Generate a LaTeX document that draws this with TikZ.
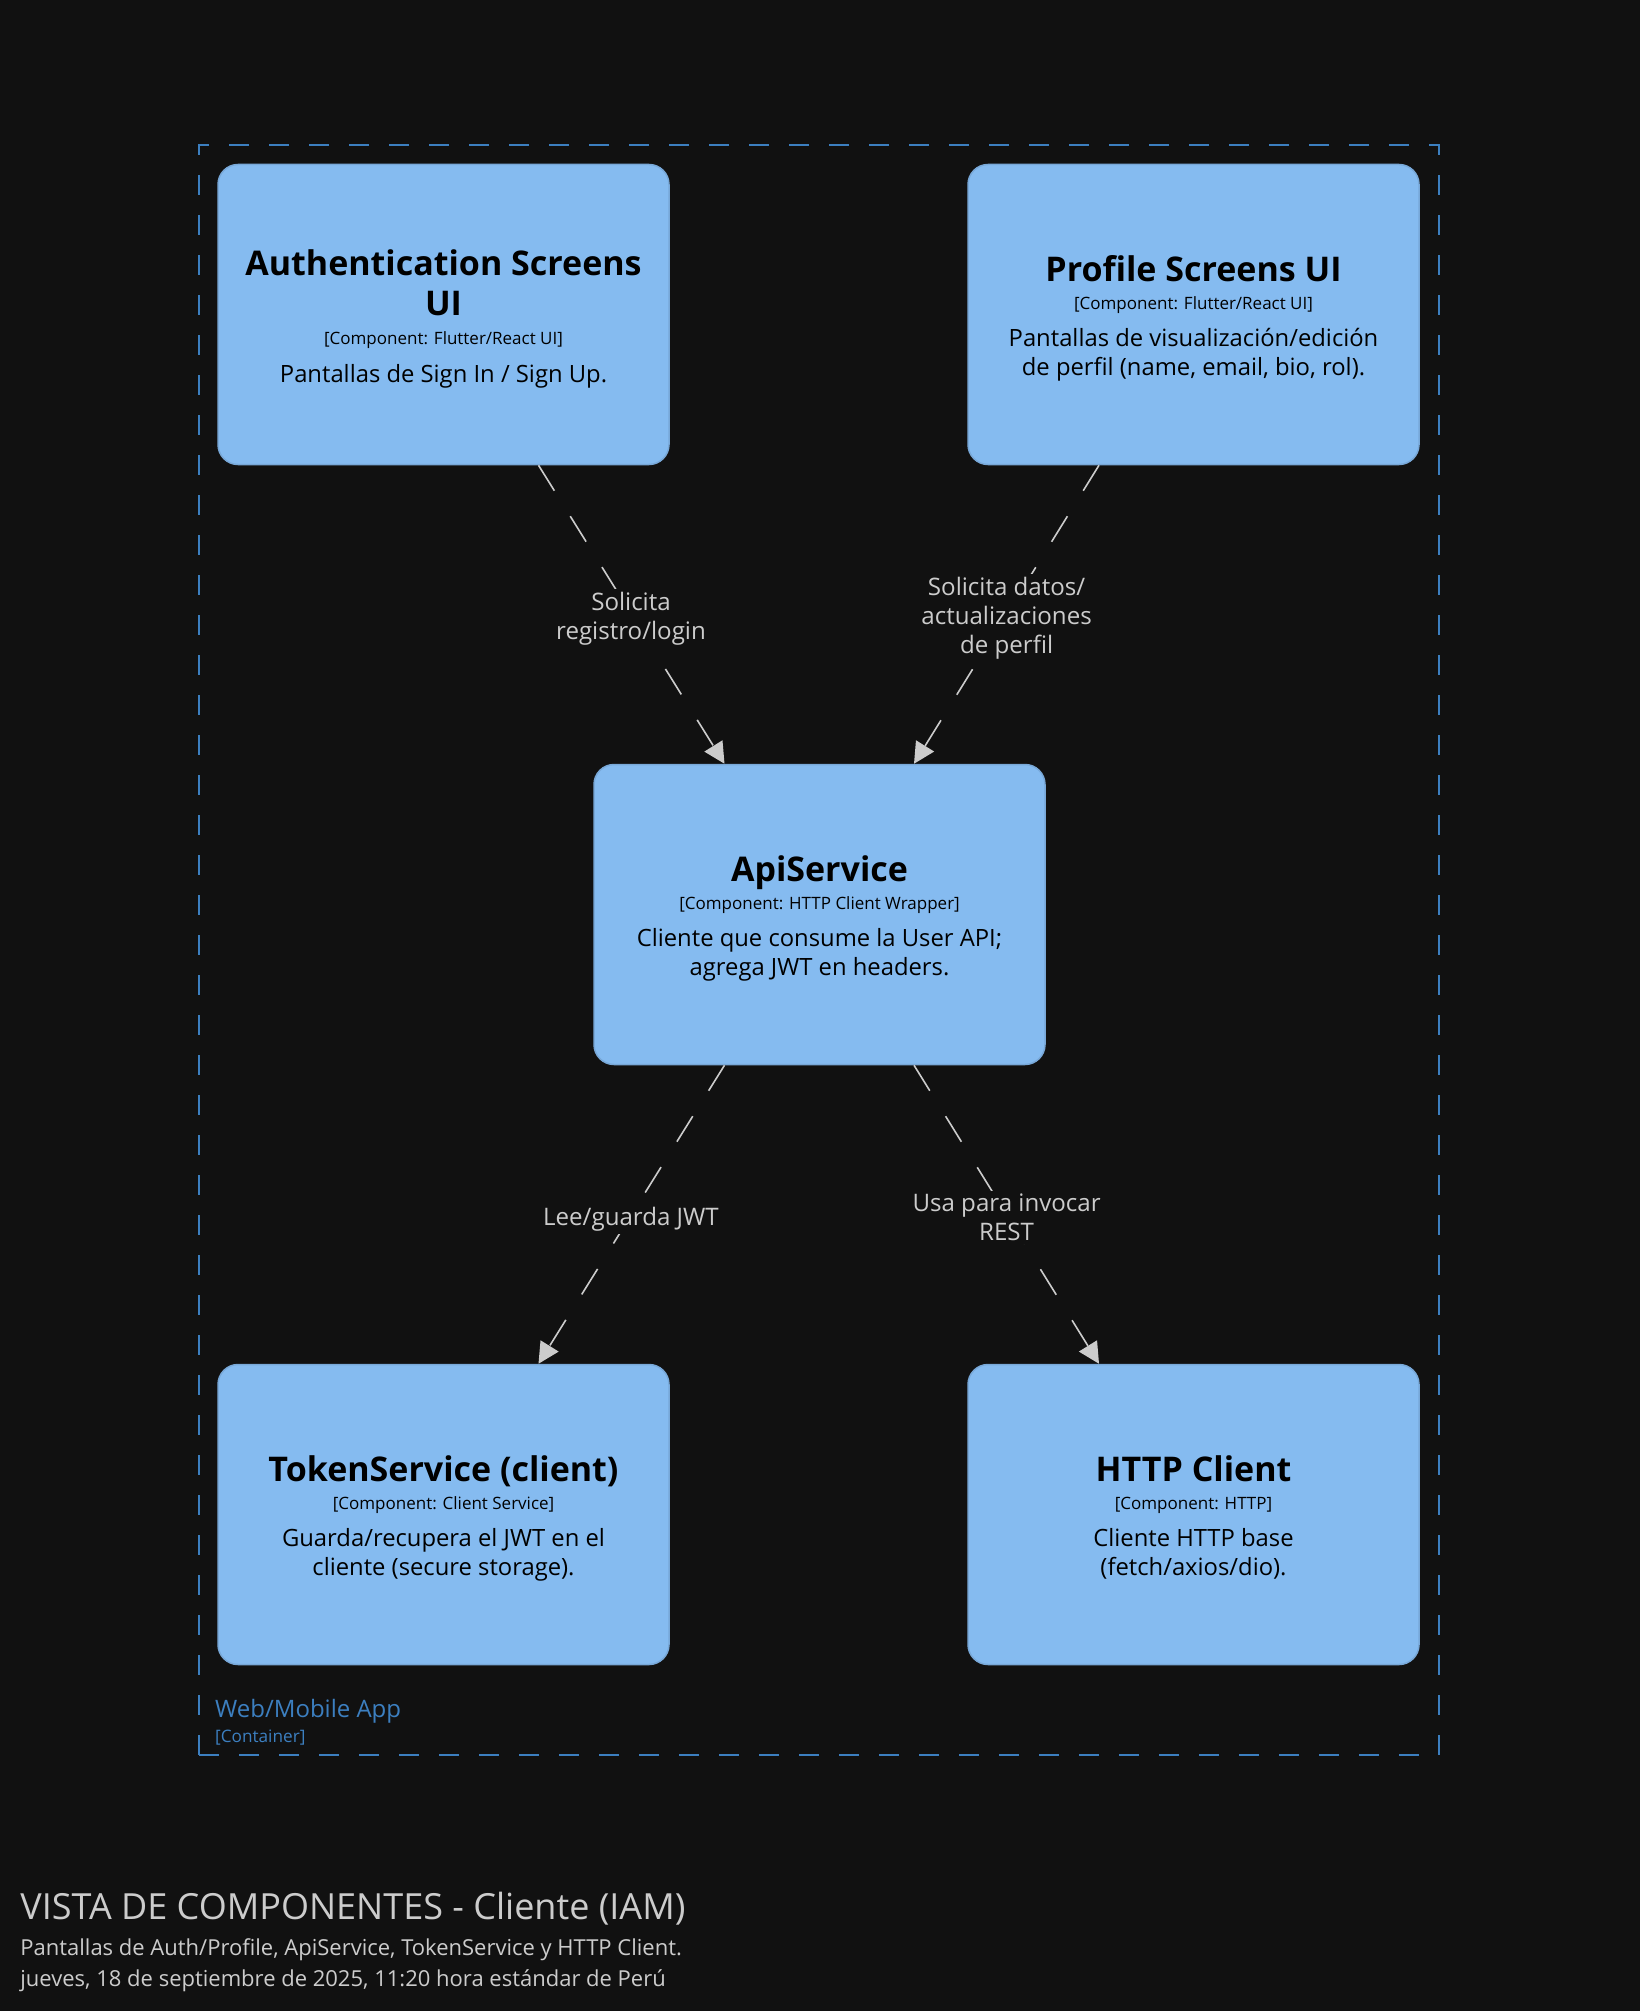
\documentclass[tikz,border=0pt]{standalone}
\usepackage{fontspec}
\setmainfont{Open Sans}
\usetikzlibrary{calc,arrows.meta}
\definecolor{bg}{HTML}{111111}
\definecolor{compfill}{HTML}{85BBF0}
\definecolor{compline}{HTML}{78A8D8}
\definecolor{bound}{HTML}{3C7FC0}
\definecolor{relc}{HTML}{CCCCCC}
\definecolor{titlec}{HTML}{CCCCCC}
\begin{document}
\begin{tikzpicture}[x=0.5pt,y=-0.5pt,
  comp/.style={draw=compline, fill=compfill, line width=0.75pt, rounded corners=10pt,
    minimum width=225.5pt, minimum height=150pt, inner sep=0pt},
  ctitle/.style={anchor=base, inner sep=0pt, text=black, font=\fontsize{17pt}{20pt}\selectfont\bfseries},
  ctag/.style={anchor=base, inner sep=0pt, text=black, font=\fontsize{8.5pt}{10pt}\selectfont},
  cdesc/.style={anchor=base, inner sep=0pt, text=black, font=\fontsize{11.9pt}{14.3pt}\selectfont},
  relline/.style={draw=relc, line width=0.8pt, dash pattern=on 15pt off 15pt,
    -{Triangle[length=10.5pt,width=10.5pt]}},
  rlabel/.style={fill=bg, text=relc, align=center, inner sep=1.5pt,
    font=\fontsize{12.05pt}{14.5pt}\selectfont},
  boundary/.style={draw=bound, line width=1pt, dash pattern=on 10pt off 10pt,
    minimum width=620pt, minimum height=805pt, inner sep=0pt},
  btext/.style={anchor=base west, inner sep=0pt, text=bound},
  ttext/.style={anchor=base west, inner sep=0pt, text=titlec},
]
\fill[bg] (0,0) rectangle (1640,2011);
\useasboundingbox (0,0) rectangle (1640,2011);

% container boundary
\node[boundary] (app) at (819,950) {};
\node[btext, font=\fontsize{12pt}{15pt}\selectfont] (app-n) at (214.7,1717) {Web/Mobile App};
\node[btext, font=\fontsize{8.6pt}{10pt}\selectfont] (app-k) at (214.7,1742) {[Container]};

% components
\node[comp] (auth) at (443.5,314.5) {};
\node[ctitle] (auth-t1) at ($(auth.north)+(0,112)$) {Authentication Screens};
\node[ctitle] (auth-t2) at ($(auth.north)+(0,152)$) {UI};
\node[ctag] (auth-g) at ($(auth.north)+(0,181)$) {[Component: Flutter/React UI]};
\node[cdesc] (auth-d1) at ($(auth.north)+(0,219)$) {Pantallas de Sign In / Sign Up.};

\node[comp] (profile) at (1193.5,314.5) {};
\node[ctitle] (profile-t) at ($(profile.north)+(0,117.5)$) {Profile Screens UI};
\node[ctag] (profile-g) at ($(profile.north)+(0,146)$) {[Component: Flutter/React UI]};
\node[cdesc] (profile-d1) at ($(profile.north)+(0,183)$) {Pantallas de visualización/edición};
\node[cdesc] (profile-d2) at ($(profile.north)+(0,211.5)$) {de perfil (name, email, bio, rol).};

\node[comp] (api) at (819.5,914.5) {};
\node[ctitle] (api-t) at ($(api.north)+(0,117.5)$) {ApiService};
\node[ctag] (api-g) at ($(api.north)+(0,146)$) {[Component: HTTP Client Wrapper]};
\node[cdesc] (api-d1) at ($(api.north)+(0,183)$) {Cliente que consume la User API;};
\node[cdesc] (api-d2) at ($(api.north)+(0,211.5)$) {agrega JWT en headers.};

\node[comp] (token) at (443.5,1514.5) {};
\node[ctitle] (token-t) at ($(token.north)+(0,117.5)$) {TokenService (client)};
\node[ctag] (token-g) at ($(token.north)+(0,146)$) {[Component: Client Service]};
\node[cdesc] (token-d1) at ($(token.north)+(0,183)$) {Guarda/recupera el JWT en el};
\node[cdesc] (token-d2) at ($(token.north)+(0,211.5)$) {cliente (secure storage).};

\node[comp] (http) at (1193.5,1514.5) {};
\node[ctitle] (http-t) at ($(http.north)+(0,117.5)$) {HTTP Client};
\node[ctag] (http-g) at ($(http.north)+(0,146)$) {[Component: HTTP]};
\node[cdesc] (http-d1) at ($(http.north)+(0,183)$) {Cliente HTTP base};
\node[cdesc] (http-d2) at ($(http.north)+(0,211.5)$) {(fetch/axios/dio).};

% relations
\draw[relline] ($(auth.south)+(95,0)$) -- ($(api.north)+(-95,0)$);
\draw[relline] ($(profile.south)+(-94.5,0)$) -- ($(api.north)+(94.5,0)$);
\draw[relline] ($(api.south)+(-95,0)$) -- ($(token.north)+(95,0)$);
\draw[relline] ($(api.south)+(94.5,0)$) -- ($(http.north)+(-94.5,0)$);

\node[rlabel] (l1) at (631,619) {Solicita\\registro/login};
\node[rlabel] (l2) at (1006.6,618) {Solicita datos/\\actualizaciones\\de perfil};
\node[rlabel] (l3) at (631,1219) {Lee/guarda JWT};
\node[rlabel] (l4) at (1006.6,1217.5) {Usa para invocar\\REST};

% title
\node[ttext, font=\fontsize{18pt}{22pt}\selectfont] (title) at (20,1919) {VISTA DE COMPONENTES - Cliente (IAM)};
\node[ttext, font=\fontsize{11pt}{14pt}\selectfont] (sub1) at (20,1955) {Pantallas de Auth/Profile, ApiService, TokenService y HTTP Client.};
\node[ttext, font=\fontsize{11pt}{14pt}\selectfont] (sub2) at (20,1986) {jueves, 18 de septiembre de 2025, 11:20 hora estándar de Perú};
\end{tikzpicture}
\end{document}
